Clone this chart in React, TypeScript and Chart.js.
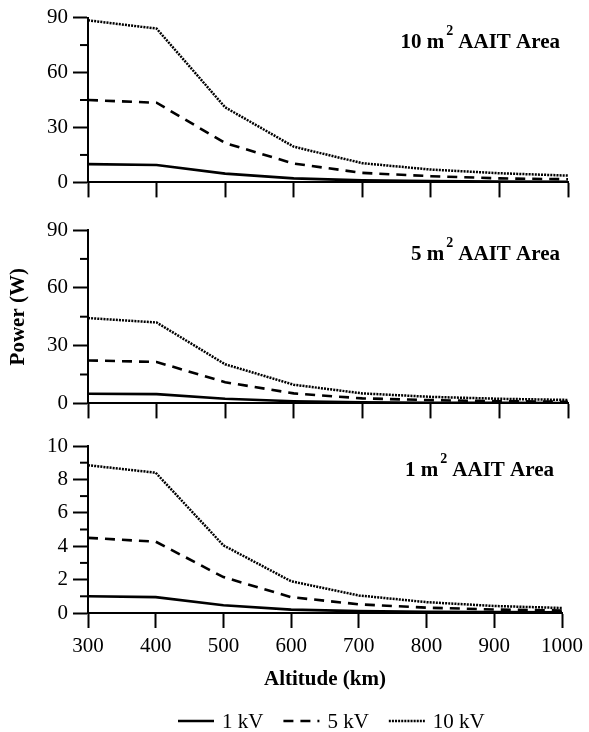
import React, { useEffect, useRef } from "react";
import { Chart, registerables } from "chart.js";

Chart.register(...registerables);

// ---------- data ----------
const altitudesKm = [300, 400, 500, 600, 700, 800, 900, 1000];
const voltageLabels = ["1 kV", "5 kV", "10 kV"];
const areaLabels = ["10", "5", "1"];

const area10m2_1kV = [10, 9.5, 4.8, 2.2, 1.1, 0.7, 0.5, 0.35];
const area10m2_5kV = [45, 43.5, 21.5, 10.3, 5.2, 3.4, 2.2, 1.7];
const area10m2_10kV = [88.5, 84, 41, 19.5, 10.5, 7, 5, 3.7];

const area5m2_1kV = [5, 4.8, 2.4, 1.1, 0.55, 0.35, 0.25, 0.18];
const area5m2_5kV = [22.3, 21.5, 11, 5.2, 2.6, 1.7, 1.15, 0.85];
const area5m2_10kV = [44.3, 42, 20.3, 9.7, 5.2, 3.4, 2.4, 1.8];

const area1m2_1kV = [1.0, 0.95, 0.46, 0.2, 0.11, 0.07, 0.05, 0.035];
const area1m2_5kV = [4.5, 4.27, 2.15, 0.95, 0.52, 0.32, 0.21, 0.15];
const area1m2_10kV = [8.85, 8.4, 4.05, 1.9, 1.05, 0.65, 0.42, 0.3];

const panelSeries = [
  [area10m2_1kV, area10m2_5kV, area10m2_10kV],
  [area5m2_1kV, area5m2_5kV, area5m2_10kV],
  [area1m2_1kV, area1m2_5kV, area1m2_10kV],
];

const yAxisMax = [90, 90, 10];
const yMajorStep = [30, 30, 2];
const yMinorStep = [15, 15, 1];
const xMin = 300;
const xMax = 1000;
const xStep = 100;

// ---------- styles / layout ----------
const FONT = "'Liberation Serif', 'Times New Roman', serif";
const TICK_SIZE = 21;
const lineStyles = [
  { dash: [] as number[], width: 2.6 },
  { dash: [10, 7], width: 2.6 },
  { dash: [2, 1.1], width: 2.5 },
];

// canvas top/height, chart area padding, forced x axis height
const panelLayout = [
  { top: 0, height: 200, padTop: 15, padBottom: 0, xAxisH: 17 },
  { top: 200, height: 221, padTop: 30, padBottom: 0, xAxisH: 17 },
  { top: 420, height: 312, padTop: 26, padBottom: 39, xAxisH: 80 },
];

const minorTicksPlugin = {
  id: "minorTicks",
  afterDraw(chart: any) {
    const step = chart.options.plugins.minorTicks.step;
    const ys = chart.scales.y;
    const ctx = chart.ctx;
    ctx.save();
    ctx.strokeStyle = "#000";
    ctx.lineWidth = 2;
    for (let v = step; v < ys.max; v += step * 2) {
      const y = ys.getPixelForValue(v);
      ctx.beginPath();
      ctx.moveTo(ys.right - 8, y);
      ctx.lineTo(ys.right, y);
      ctx.stroke();
    }
    ctx.restore();
  },
};

const areaTitlePlugin = {
  id: "areaTitle",
  afterDraw(chart: any) {
    const label = chart.options.plugins.areaTitle.label;
    const ctx = chart.ctx;
    const area = chart.chartArea;
    const baseY = area.top + 30;
    const right = area.right - 8;
    ctx.save();
    ctx.fillStyle = "#000";
    ctx.textBaseline = "alphabetic";
    ctx.textAlign = "left";
    const big = `bold 21px ${FONT}`;
    const small = `bold 14px ${FONT}`;
    const p1 = `${label} m`;
    const p3 = "AAIT Area";
    ctx.font = big;
    const w1 = ctx.measureText(p1).width;
    const w3 = ctx.measureText(p3).width;
    ctx.font = small;
    const w2 = ctx.measureText("2").width;
    const total = w1 + 2 + w2 + 5 + w3;
    let x = right - total;
    ctx.font = big;
    ctx.fillText(p1, x, baseY);
    x += w1 + 2;
    ctx.font = small;
    ctx.fillText("2", x, baseY - 13);
    x += w2 + 5;
    ctx.font = big;
    ctx.fillText(p3, x, baseY);
    ctx.restore();
  },
};

const bottomLegendPlugin = {
  id: "bottomLegend",
  afterDraw(chart: any) {
    const opts = chart.options.plugins.bottomLegend;
    if (!opts || !opts.show) return;
    const ctx = chart.ctx;
    const y = chart.height - 11;
    let x = 178;
    ctx.save();
    ctx.font = `21px ${FONT}`;
    ctx.fillStyle = "#000";
    ctx.textBaseline = "middle";
    ctx.textAlign = "left";
    chart.data.datasets.forEach((ds: any) => {
      ctx.save();
      ctx.strokeStyle = ds.borderColor;
      ctx.lineWidth = ds.borderWidth;
      ctx.setLineDash(ds.borderDash || []);
      ctx.beginPath();
      ctx.moveTo(x, y);
      ctx.lineTo(x + 36, y);
      ctx.stroke();
      ctx.restore();
      x += 36 + 8;
      ctx.fillText(ds.label, x, y + 1);
      x += ctx.measureText(ds.label).width + 20;
    });
    ctx.restore();
  },
};

function Panel({ index }: { index: number }) {
  const ref = useRef<HTMLCanvasElement | null>(null);
  useEffect(() => {
    if (!ref.current) return;
    const lay = panelLayout[index];
    const isBottom = index === 2;
    const isMiddle = index === 1;
    const datasets = panelSeries[index].map((vals, i) => ({
      label: voltageLabels[i],
      data: altitudesKm.map((a, j) => ({ x: a, y: vals[j] })),
      borderColor: "#000",
      backgroundColor: "#000",
      borderWidth: lineStyles[i].width,
      borderDash: lineStyles[i].dash,
      pointRadius: 0,
      tension: 0,
      fill: false,
    }));
    const chart = new Chart(ref.current, {
      type: "line",
      data: { datasets },
      plugins: [minorTicksPlugin, areaTitlePlugin, bottomLegendPlugin],
      options: {
        animation: false,
        responsive: true,
        maintainAspectRatio: false,
        layout: {
          padding: { top: lay.padTop, bottom: lay.padBottom, left: 0, right: 21 },
        },
        plugins: {
          legend: { display: false },
          tooltip: { enabled: false },
          minorTicks: { step: yMinorStep[index] },
          areaTitle: { label: areaLabels[index] },
          bottomLegend: { show: isBottom },
        } as any,
        scales: {
          x: {
            type: "linear",
            min: xMin,
            max: xMax,
            afterFit: (s: any) => {
              s.height = lay.xAxisH;
            },
            ticks: {
              stepSize: xStep,
              display: isBottom,
              color: "#000",
              padding: 6,
              maxRotation: 0,
              callback: (v: any) => String(v),
              font: { family: FONT, size: TICK_SIZE },
            },
            grid: {
              drawOnChartArea: false,
              drawTicks: true,
              tickLength: 15,
              tickWidth: 2,
              tickColor: "#000",
            },
            border: { display: true, color: "#000", width: 2 },
            title: {
              display: isBottom,
              text: "Altitude (km)",
              color: "#000",
              font: { family: FONT, size: 21, weight: "bold" },
              padding: { top: 0, bottom: 1 },
            },
          },
          y: {
            type: "linear",
            min: 0,
            max: yAxisMax[index],
            afterFit: (s: any) => {
              s.width = 88;
            },
            ticks: {
              stepSize: yMajorStep[index],
              color: "#000",
              padding: 5,
              callback: (v: any) => String(v),
              font: { family: FONT, size: TICK_SIZE },
            },
            grid: {
              drawOnChartArea: false,
              drawTicks: true,
              tickLength: 15,
              tickWidth: 2,
              tickColor: "#000",
            },
            border: { display: true, color: "#000", width: 2 },
            title: {
              display: isMiddle,
              text: "Power (W)",
              color: "#000",
              font: { family: FONT, size: 21, weight: "bold" },
              padding: { top: 6, bottom: 0 },
            },
          },
        },
      } as any,
    });
    return () => chart.destroy();
  }, [index]);
  const lay = panelLayout[index];
  return (
    <div
      style={{
        position: "absolute",
        left: 0,
        top: lay.top,
        width: 589,
        height: lay.height,
      }}
    >
      <canvas ref={ref} />
    </div>
  );
}

export default function App() {
  return (
    <div
      style={{
        position: "absolute",
        left: 0,
        top: 0,
        width: 589,
        height: 732,
        background: "#fff",
      }}
    >
      <Panel index={0} />
      <Panel index={1} />
      <Panel index={2} />
    </div>
  );
}
